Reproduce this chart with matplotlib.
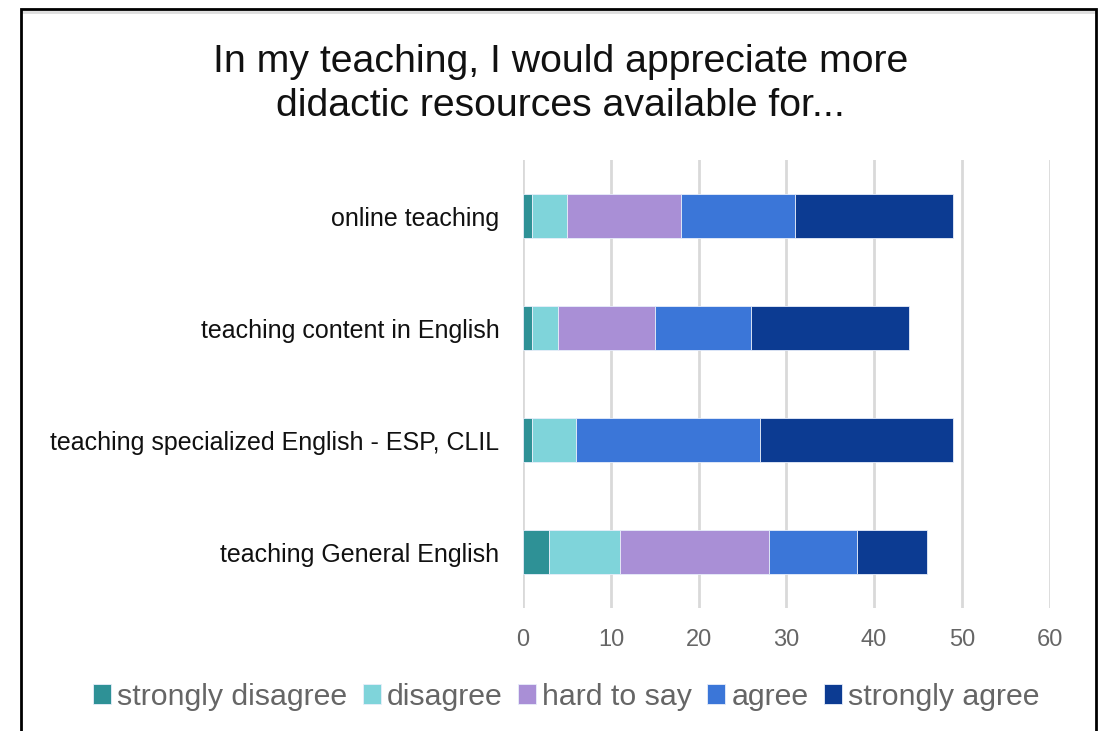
import numpy as np
import matplotlib
matplotlib.use("Agg")
import matplotlib.pyplot as plt
from matplotlib.patches import Rectangle

plt.rcParams["font.family"] = ["Liberation Sans", "DejaVu Sans"]

categories = [
    "online teaching",
    "teaching content in English",
    "teaching specialized English - ESP, CLIL",
    "teaching General English",
]
series_names = ["strongly disagree", "disagree", "hard to say", "agree", "strongly agree"]
strongly_disagree = [1, 1, 1, 3]
disagree = [4, 3, 5, 8]
hard_to_say = [13, 11, 0, 17]
agree = [13, 11, 21, 10]
strongly_agree = [18, 18, 22, 8]
colors = ["#2e9196", "#7fd4da", "#a98fd6", "#3b76d8", "#0c3b92"]

series = [strongly_disagree, disagree, hard_to_say, agree, strongly_agree]

fig = plt.figure(figsize=(11.06, 7.31), dpi=100)
ax = fig.add_axes([0.473, 0.168, 0.476, 0.613])

y = np.arange(len(categories))
left = np.zeros(len(categories))
for name, vals, col in zip(series_names, series, colors):
    vals = np.array(vals, dtype=float)
    ax.barh(y, vals, left=left, height=0.39, color=col, label=name,
            edgecolor="#e8eefa", linewidth=0.6, zorder=3)
    left += vals

ax.set_xlim(0, 60)
ax.set_ylim(3.5, -0.5)
ax.set_xticks(np.arange(0, 61, 10))
ax.set_yticks(y)
ax.set_yticklabels(categories, fontsize=18, color="#111111")
ax.tick_params(axis="x", labelsize=17, labelcolor="#666666", length=0, pad=15)
ax.tick_params(axis="y", length=0, pad=17)
ax.grid(axis="x", color="#d9d9d9", linewidth=2, zorder=0)
for s in ax.spines.values():
    s.set_visible(False)

fig.text(0.507, 0.885, "In my teaching, I would appreciate more\ndidactic resources available for...",
         ha="center", va="center", fontsize=28.3, color="#111111", linespacing=1.28)

handles, labels = ax.get_legend_handles_labels()
leg = fig.legend(handles, labels, loc="center", bbox_to_anchor=(0.512, 0.047), ncol=5,
                 frameon=False, fontsize=21.8, handlelength=0.6, handleheight=0.6,
                 handletextpad=0.2, columnspacing=0.5)
for t in leg.get_texts():
    t.set_color("#666666")

# frame around the whole chart
fig.patches.append(Rectangle((21 / 1106, -0.02), (1096 - 21) / 1106, (731 - 9) / 731 + 0.02,
                             transform=fig.transFigure, fill=False, edgecolor="black",
                             linewidth=2, zorder=10))
fig.lines.append(plt.Line2D([23 / 1106, 1094 / 1106], [1 - 12 / 731, 1 - 12 / 731],
                            transform=fig.transFigure, color="#dddddd", linewidth=2))

fig.savefig("out.png", dpi=100)
